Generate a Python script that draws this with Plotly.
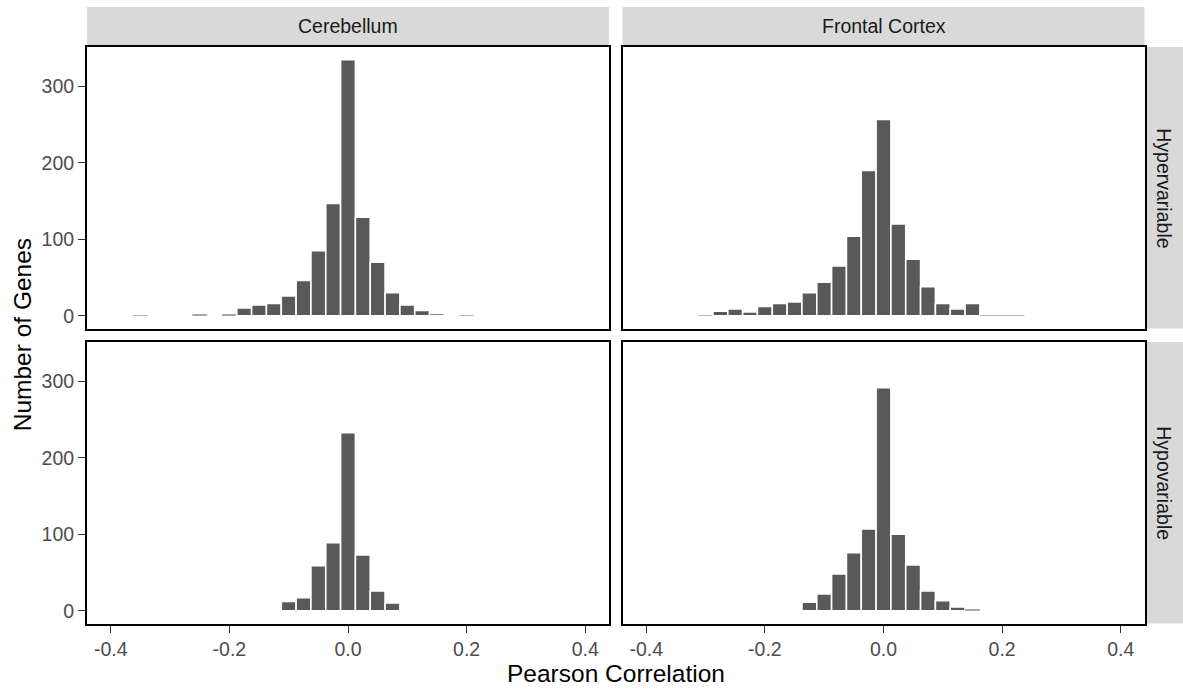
import plotly.graph_objects as go

# Histogram bins (centres, width 0.025) and gene counts for each brain region / gene set
BIN_WIDTH = 0.025

cerebellum_hyper_bins = [-0.35, -0.25, -0.2, -0.175, -0.15, -0.125, -0.1, -0.075, -0.05,
                         -0.025, 0.0, 0.025, 0.05, 0.075, 0.1, 0.125, 0.15, 0.2]
cerebellum_hyper_counts = [1, 2, 2, 10, 14, 16, 26, 46, 85, 147, 335, 129, 70, 30, 14, 7, 3, 1]

frontal_hyper_bins = [-0.3, -0.275, -0.25, -0.225, -0.2, -0.175, -0.15, -0.125, -0.1, -0.075,
                      -0.05, -0.025, 0.0, 0.025, 0.05, 0.075, 0.1, 0.125, 0.15, 0.175, 0.2, 0.225]
frontal_hyper_counts = [1, 6, 9, 5, 12, 16, 18, 30, 44, 65, 104, 190, 257, 120, 74, 38, 16, 9,
                        16, 1, 1, 1]

cerebellum_hypo_bins = [-0.1, -0.075, -0.05, -0.025, 0.0, 0.025, 0.05, 0.075]
cerebellum_hypo_counts = [12, 17, 59, 89, 233, 73, 26, 10]

frontal_hypo_bins = [-0.125, -0.1, -0.075, -0.05, -0.025, 0.0, 0.025, 0.05, 0.075, 0.1,
                     0.125, 0.15]
frontal_hypo_counts = [11, 22, 48, 76, 107, 292, 100, 60, 26, 13, 5, 2]

regions = ["Cerebellum", "Frontal Cortex"]
gene_sets = ["Hypervariable", "Hypovariable"]

x_tick_values = [-0.4, -0.2, 0.0, 0.2, 0.4]
x_tick_labels = ["-0.4", "-0.2", "0.0", "0.2", "0.4"]
y_tick_values = [0, 100, 200, 300]
y_tick_labels = ["0", "100", "200", "300"]

X_RANGE = [-0.44, 0.44]
Y_MAX = max(max(cerebellum_hyper_counts), max(frontal_hyper_counts),
            max(cerebellum_hypo_counts), max(frontal_hypo_counts))
Y_RANGE = [-0.05 * Y_MAX, 1.05 * Y_MAX]

# Page geometry in pixels
W, H = 1183, 689
COLS = [(87, 609), (622.5, 1144.5)]
ROWS = [(47, 328.5), (342, 623.5)]
STRIP_TOP = (7, 46)
STRIP_RIGHT = (1146, 1183)

FONT = "Liberation Sans, Arial, sans-serif"
TEXT_SIZE = 19.5
TITLE_SIZE = 24.5
BAR_FILL = "#595959"
STRIP_FILL = "#D9D9D9"

panels = [
    (0, 0, cerebellum_hyper_bins, cerebellum_hyper_counts),
    (0, 1, frontal_hyper_bins, frontal_hyper_counts),
    (1, 0, cerebellum_hypo_bins, cerebellum_hypo_counts),
    (1, 1, frontal_hypo_bins, frontal_hypo_counts),
]


def fx(p):
    return p / W


def fy(p):
    return 1 - p / H


def outline_widths(counts):
    # thin outline on very short bars so they still show as a faint line
    return [1.6 if n >= 3 else 0.4 for n in counts]


fig = go.Figure()
layout = {}

for i, (r, c, bins, counts) in enumerate(panels, start=1):
    suffix = "" if i == 1 else str(i)
    fig.add_trace(go.Bar(
        x=bins, y=counts, width=[BIN_WIDTH] * len(bins),
        marker=dict(color=BAR_FILL,
                    line=dict(color="white", width=outline_widths(counts))),
        xaxis="x" + suffix, yaxis="y" + suffix, showlegend=False,
        hoverinfo="x+y",
    ))
    x0, x1 = COLS[c]
    y0, y1 = ROWS[r]
    xa = dict(
        domain=[fx(x0), fx(x1)], range=X_RANGE, anchor="y" + suffix,
        showline=True, mirror=True, linecolor="black", linewidth=2,
        showgrid=False, zeroline=False,
    )
    if r == 1:
        xa.update(ticks="outside", ticklen=7, tickwidth=1.4, tickcolor="#333333",
                  tickvals=x_tick_values, ticktext=x_tick_labels,
                  tickfont=dict(family=FONT, size=TEXT_SIZE, color="#4D4D4D"))
    else:
        xa.update(showticklabels=False, ticks="")
    ya = dict(
        domain=[fy(y1), fy(y0)], range=Y_RANGE, anchor="x" + suffix,
        showline=True, mirror=True, linecolor="black", linewidth=2,
        showgrid=False, zeroline=False,
    )
    if c == 0:
        ya.update(ticks="outside", ticklen=7, tickwidth=1.4, tickcolor="#333333",
                  tickvals=y_tick_values, ticktext=y_tick_labels,
                  tickfont=dict(family=FONT, size=TEXT_SIZE, color="#4D4D4D"))
    else:
        ya.update(showticklabels=False, ticks="")
    layout["xaxis" + suffix] = xa
    layout["yaxis" + suffix] = ya

shapes = []
annotations = []

# Column strips across the top
for c, name in enumerate(regions):
    x0, x1 = COLS[c]
    shapes.append(dict(type="rect", xref="paper", yref="paper",
                       x0=fx(x0), x1=fx(x1), y0=fy(STRIP_TOP[1]), y1=fy(STRIP_TOP[0]),
                       fillcolor=STRIP_FILL, line=dict(width=0), layer="below"))
    annotations.append(dict(text=name, xref="paper", yref="paper",
                            x=fx((x0 + x1) / 2), y=fy((STRIP_TOP[0] + STRIP_TOP[1]) / 2),
                            showarrow=False, xanchor="center", yanchor="middle",
                            font=dict(family=FONT, size=TEXT_SIZE, color="#1A1A1A")))

# Row strips down the right side
for r, name in enumerate(gene_sets):
    y0, y1 = ROWS[r]
    shapes.append(dict(type="rect", xref="paper", yref="paper",
                       x0=fx(STRIP_RIGHT[0]), x1=fx(STRIP_RIGHT[1]), y0=fy(y1), y1=fy(y0),
                       fillcolor=STRIP_FILL, line=dict(width=0), layer="below"))
    annotations.append(dict(text=name, xref="paper", yref="paper",
                            x=fx((STRIP_RIGHT[0] + STRIP_RIGHT[1]) / 2), y=fy((y0 + y1) / 2),
                            showarrow=False, xanchor="center", yanchor="middle", textangle=90,
                            font=dict(family=FONT, size=TEXT_SIZE, color="#1A1A1A")))

# Shared axis titles
annotations.append(dict(text="Pearson Correlation", xref="paper", yref="paper",
                        x=fx((COLS[0][0] + COLS[1][1]) / 2), y=fy(673),
                        showarrow=False, xanchor="center", yanchor="middle",
                        font=dict(family=FONT, size=TITLE_SIZE, color="black")))
annotations.append(dict(text="Number of Genes", xref="paper", yref="paper",
                        x=fx(22), y=fy((ROWS[0][0] + ROWS[1][1]) / 2),
                        showarrow=False, xanchor="center", yanchor="middle", textangle=-90,
                        font=dict(family=FONT, size=TITLE_SIZE, color="black")))

fig.update_layout(
    width=W, height=H, autosize=False,
    margin=dict(l=0, r=0, t=0, b=0),
    paper_bgcolor="white", plot_bgcolor="white",
    barmode="overlay", showlegend=False,
    shapes=shapes, annotations=annotations,
    font=dict(family=FONT),
    **layout,
)

fig.write_html("out.html")
